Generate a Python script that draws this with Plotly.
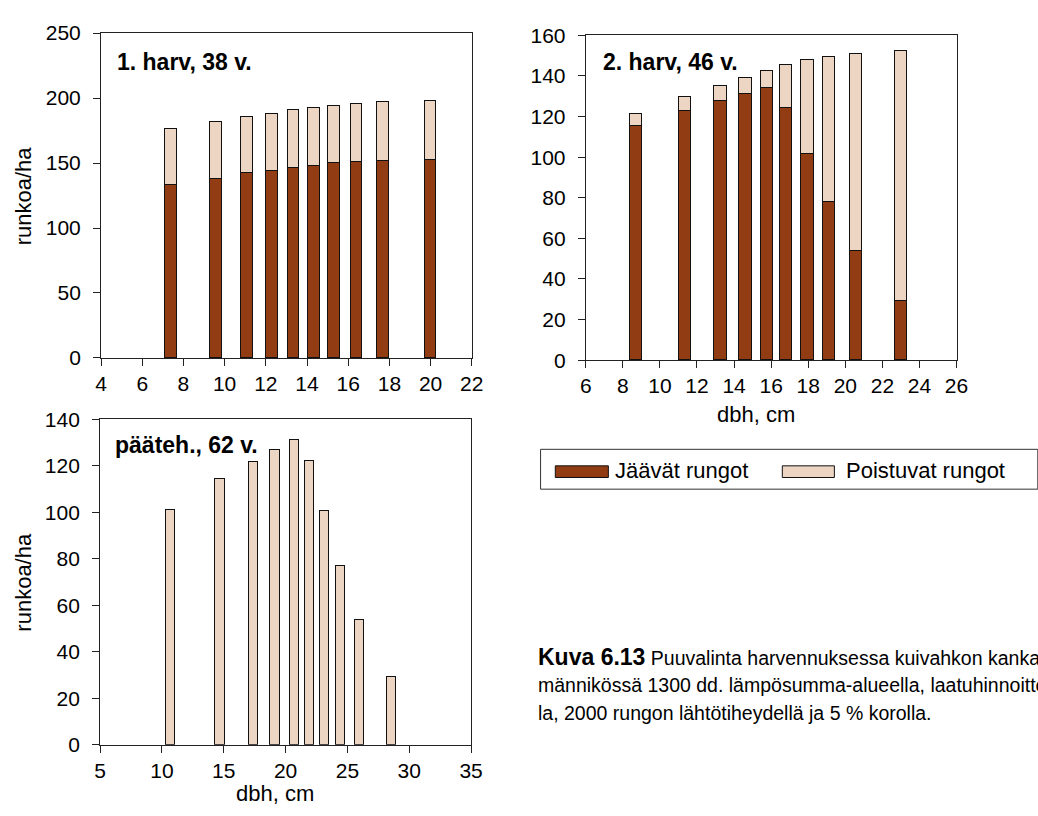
import plotly.graph_objects as go

W, H = 1038, 816

# ---------------- data ----------------
series_names = ["Jäävät rungot", "Poistuvat rungot"]

dbh_1 = [7.4, 9.6, 11.1, 12.3, 13.35, 14.35, 15.3, 16.4, 17.7, 20.0]
remain_1 = [133, 138, 142, 144, 146, 148, 150, 150.5, 151.5, 152]
removed_1 = [43, 43.5, 43, 44, 44.5, 44.5, 44, 45, 45.5, 46]

dbh_2 = [8.7, 11.35, 13.25, 14.6, 15.75, 16.8, 17.95, 19.1, 20.55, 23.0]
remain_2 = [115, 122.5, 127.5, 131, 134, 124, 101.5, 78, 53.5, 29]
removed_2 = [6, 7, 7.5, 8, 8.5, 21, 46, 71, 97, 123]

dbh_3 = [10.7, 14.7, 17.4, 19.15, 20.75, 21.95, 23.15, 24.45, 26.0, 28.55]
removed_3 = [101, 114, 121.5, 126.5, 131, 122, 100.5, 77, 53.5, 29]

panel_titles = ["1. harv, 38 v.", "2. harv, 46 v.", "pääteh., 62 v."]
y_title = "runkoa/ha"
x_title = "dbh, cm"
caption_lines = [
    "<span style='font-size:23px'><b>Kuva 6.13</b></span> Puuvalinta harvennuksessa kuivahkon kankaan",
    "männikössä 1300 dd. lämpösumma-alueella, laatuhinnoittelul-",
    "la, 2000 rungon lähtötiheydellä ja 5 % korolla.",
]

# ---------------- style ----------------
DARK = "#913C12"
LIGHT = "#EDD5C3"
FONT = "Liberation Sans, Arial, Helvetica, sans-serif"


def px(x):
    return x / W


def py(y):
    return 1 - y / H


fig = go.Figure()

line = dict(color="#111111", width=1.2)

# Panel 1
fig.add_trace(go.Bar(x=dbh_1, y=remain_1, width=0.57, marker=dict(color=DARK, line=line),
                     name=series_names[0], xaxis="x", yaxis="y", showlegend=False))
fig.add_trace(go.Bar(x=dbh_1, y=removed_1, width=0.57, marker=dict(color=LIGHT, line=line),
                     name=series_names[1], xaxis="x", yaxis="y", showlegend=False))
# Panel 2
fig.add_trace(go.Bar(x=dbh_2, y=remain_2, width=0.66, marker=dict(color=DARK, line=line),
                     name=series_names[0], xaxis="x2", yaxis="y2", showlegend=False))
fig.add_trace(go.Bar(x=dbh_2, y=removed_2, width=0.66, marker=dict(color=LIGHT, line=line),
                     name=series_names[1], xaxis="x2", yaxis="y2", showlegend=False))
# Panel 3
fig.add_trace(go.Bar(x=dbh_3, y=removed_3, width=0.74, marker=dict(color=LIGHT, line=line),
                     name=series_names[1], xaxis="x3", yaxis="y3", showlegend=False))

axis_common = dict(showline=True, linecolor="#222222", linewidth=1, mirror=True,
                   ticks="outside", ticklen=7, tickcolor="#222222", tickwidth=1,
                   showgrid=False, zeroline=False,
                   tickfont=dict(family=FONT, size=21, color="black"))
xcommon = dict(ticklabelstandoff=0, **axis_common)
ycommon = dict(ticklabelstandoff=8, **axis_common)

fig.update_layout(
    width=W, height=H, autosize=False,
    margin=dict(l=0, r=0, t=0, b=0),
    paper_bgcolor="white", plot_bgcolor="white",
    barmode="stack", bargap=0,
    font=dict(family=FONT, color="black"),
    xaxis=dict(domain=[px(96.7), px(474)], range=[4, 22], dtick=2, tick0=4, anchor="y", **xcommon),
    yaxis=dict(domain=[py(356), py(21.7)], range=[0, 250], dtick=50, anchor="x", **ycommon),
    xaxis2=dict(domain=[px(590), px(967.3)], range=[6, 26], dtick=2, tick0=6, anchor="y2", **xcommon),
    yaxis2=dict(domain=[py(358.3), py(24)], range=[0, 160], dtick=20, anchor="x2", **ycommon),
    xaxis3=dict(domain=[px(95.7), px(473.3)], range=[5, 35], dtick=5, tick0=5, anchor="y3", **xcommon),
    yaxis3=dict(domain=[py(754), py(419)], range=[0, 140], dtick=20, anchor="x3", **ycommon),
)

ann = []
# panel titles
for t, (x, y) in zip(panel_titles, [(111, 51), (605, 51), (109, 446)]):
    ann.append(dict(text=f"<b>{t}</b>", x=px(x), y=py(y), xref="paper", yref="paper",
                    xanchor="left", yanchor="middle", showarrow=False,
                    font=dict(family=FONT, size=23, color="black")))
# y titles
for yc in [189, 586.5]:
    ann.append(dict(text=y_title, x=px(18), y=py(yc), xref="paper", yref="paper",
                    xanchor="center", yanchor="middle", textangle=-90, showarrow=False,
                    font=dict(family=FONT, size=22, color="black")))
# x titles
for (xc, yc) in [(763, 414), (274, 804)]:
    ann.append(dict(text=x_title, x=px(xc), y=py(yc), xref="paper", yref="paper",
                    xanchor="center", yanchor="middle", showarrow=False,
                    font=dict(family=FONT, size=22, color="black")))
# caption
for i, ln in enumerate(caption_lines):
    ann.append(dict(text=ln, x=px(539), y=py(664 + 28.5 * i), xref="paper", yref="paper",
                    xanchor="left", yanchor="middle", showarrow=False, align="left",
                    font=dict(family=FONT, size=19.5, color="black")))
# legend labels
for name, xl in zip(series_names, [618, 853]):
    ann.append(dict(text=name, x=px(xl), y=py(472), xref="paper", yref="paper",
                    xanchor="left", yanchor="middle", showarrow=False,
                    font=dict(family=FONT, size=22, color="black")))
fig.update_layout(annotations=ann)

shapes = [
    dict(type="rect", xref="paper", yref="paper", x0=px(544), x1=px(1050), y0=py(491), y1=py(450),
         line=dict(color="#333333", width=1), fillcolor="rgba(0,0,0,0)"),
    dict(type="rect", xref="paper", yref="paper", x0=px(559), x1=px(613), y0=py(479), y1=py(467),
         line=dict(color="#111111", width=1), fillcolor=DARK),
    dict(type="rect", xref="paper", yref="paper", x0=px(790), x1=px(843), y0=py(479), y1=py(467),
         line=dict(color="#111111", width=1), fillcolor=LIGHT),
]
fig.update_layout(shapes=shapes)

fig.write_html("out.html")
